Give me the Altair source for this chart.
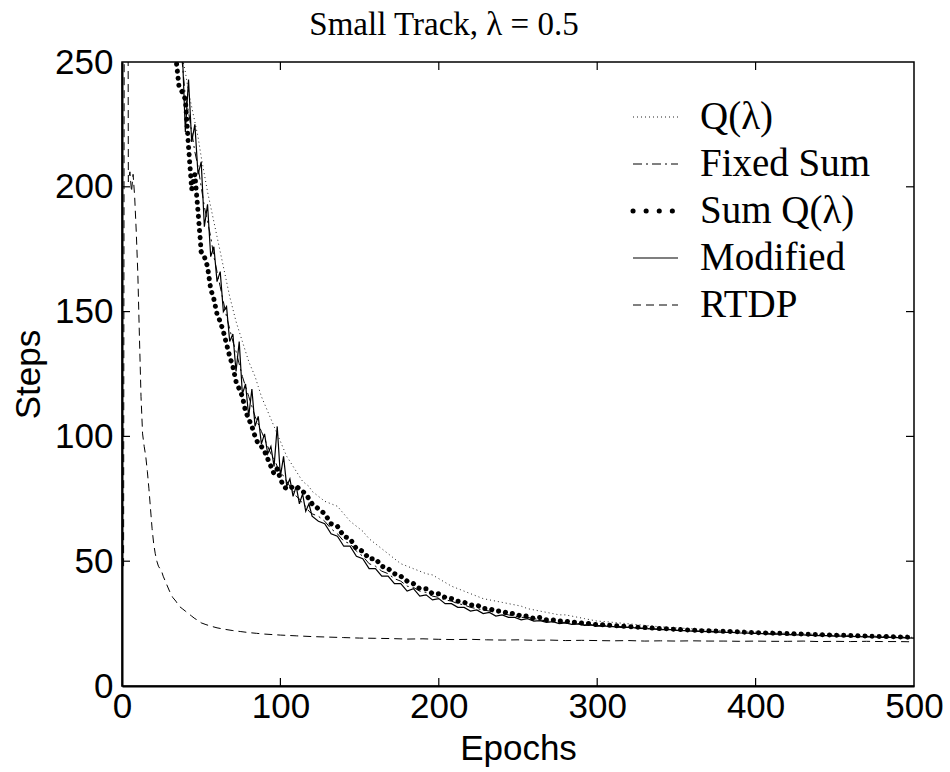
import altair as alt
import pandas as pd

# ---------------- data ----------------
EPOCHS_A = list(range(34, 121, 2))    # 44 points
EPOCHS_B = list(range(124, 301, 4))   # 45 points
EPOCHS_C = list(range(305, 501, 5))   # 40 points

MODIFIED_A = [290, 272, 256, 222, 243, 218, 225, 205, 210, 184,
              193, 172, 176, 162, 166, 150, 152, 138, 141, 126,
              138, 117, 121, 108, 119, 104, 108, 97, 101, 93,
              96, 88, 104, 84, 92, 80, 83, 76, 80, 73,
              77, 70, 73, 68]
MODIFIED_B = [66, 65, 61, 60, 56, 56, 52, 51, 47, 47,
              44, 44, 41, 41, 38, 39, 36, 36.5, 34.5, 35,
              33, 33, 31.5, 31.5, 30, 30.5, 29, 29.5, 28, 28.5,
              27.5, 27.5, 26.5, 27, 26, 26.2, 25.5, 25.8, 25, 25.3,
              24.7, 24.9, 24.3, 24.5, 24]
MODIFIED_C = [24, 23.8, 23.5, 23.6, 23.2, 23, 22.9, 22.6, 22.7, 22.3,
              22.2, 22, 21.9, 21.8, 21.7, 21.5, 21.5, 21.3, 21.2, 21.1,
              21, 20.8, 20.9, 20.6, 20.5, 20.5, 20.3, 20.2, 20.2, 20,
              20, 19.9, 19.8, 19.7, 19.7, 19.5, 19.5, 19.4, 19.3, 19.2]

SUMQ_A = [252, 240, 238, 235, 216, 199, 205, 190, 174, 172,
          168, 159, 155, 149, 146, 142, 137, 132, 128, 122,
          119, 116, 110, 107, 104, 100, 97, 96, 94, 91,
          88, 85, 87, 83, 80, 79, 79, 80, 80, 79,
          78, 77, 75, 73]
SUMQ_B = [71, 69, 65, 64, 60, 59, 55, 54, 51, 51,
          48, 47, 45, 44, 42, 41, 39, 39, 37, 37,
          35.5, 35, 34, 33.5, 32.5, 32.5, 31, 31, 30, 30,
          29, 29, 28, 28, 27, 27.5, 26.5, 26.5, 26, 26,
          25.5, 25.5, 25, 25, 24.5]
SUMQ_C = [24.5, 24.2, 24, 23.8, 23.6, 23.4, 23.2, 23, 22.9, 22.7,
          22.5, 22.4, 22.2, 22.1, 22, 21.9, 21.8, 21.7, 21.5, 21.4,
          21.3, 21.2, 21.1, 21, 20.9, 20.8, 20.7, 20.6, 20.5, 20.4,
          20.3, 20.2, 20.1, 20, 19.9, 19.8, 19.8, 19.7, 19.6, 19.5]

QLAMBDA_A = [275, 262, 252, 246, 238, 232, 226, 220, 212, 205,
             198, 192, 186, 180, 174, 168, 162, 156, 151, 146,
             142, 138, 134, 130, 127, 124, 120, 116, 113, 110,
             107, 104, 101, 98, 95, 92, 90, 88, 86, 84,
             82, 81, 80, 78]
QLAMBDA_B = [76, 74, 73, 72, 69, 66, 64, 62, 59, 57,
             55, 53, 51, 49, 48, 47, 46, 45, 44.5, 43,
             41.5, 40, 39, 38, 37, 36, 35, 34.5, 34, 33.5,
             33, 32.5, 32, 31, 30.5, 30, 29.5, 29, 28.5, 28.5,
             28, 27.5, 27, 26.5, 26]
QLAMBDA_C = [25.8, 25.5, 25.2, 24.9, 24.6, 24.3, 24, 23.7, 23.5, 23.3,
             23.1, 22.9, 22.7, 22.5, 22.3, 22.2, 22, 21.9, 21.7, 21.6,
             21.5, 21.4, 21.2, 21.1, 21, 20.9, 20.8, 20.7, 20.6, 20.5,
             20.4, 20.3, 20.2, 20.1, 20, 19.9, 19.8, 19.7, 19.6, 19.5]

FIXED_A = [282, 266, 250, 236, 230, 222, 214, 208, 200, 192,
           186, 180, 172, 166, 160, 154, 148, 143, 138, 134,
           129, 124, 120, 116, 112, 108, 105, 102, 99, 96,
           93, 91, 88, 86, 84, 82, 80, 78, 76, 75,
           73, 72, 70, 69]
FIXED_B = [68, 66, 63, 61, 58, 57, 54, 52, 49, 48,
           46, 45, 43, 42, 40, 39.5, 38, 37.5, 36, 35.5,
           34.5, 34, 33, 32.5, 31.5, 31, 30.5, 30, 29.5, 29,
           28.5, 28, 27.5, 27.5, 27, 26.5, 26, 26, 25.5, 25.5,
           25, 25, 24.5, 24.5, 24.2]
FIXED_C = [24.3, 24, 23.8, 23.6, 23.3, 23.1, 22.9, 22.7, 22.6, 22.4,
           22.2, 22.1, 22, 21.8, 21.7, 21.6, 21.5, 21.3, 21.2, 21.1,
           21, 20.9, 20.8, 20.7, 20.6, 20.5, 20.4, 20.3, 20.2, 20.1,
           20, 20, 19.9, 19.8, 19.7, 19.6, 19.6, 19.5, 19.4, 19.3]

RTDP_EPOCHS = [1, 2, 3, 4, 5, 6, 7, 8, 9, 10, 11, 12, 13, 14, 15, 16, 17, 18, 19, 20,
               21, 22, 23, 24, 25, 26, 28, 30, 32, 34, 36, 38, 40, 42, 44, 46, 48, 50,
               53, 56, 60, 65, 70, 75, 80, 85, 90, 95, 100, 110, 120, 130, 140, 150,
               160, 170, 180, 190, 200, 210, 220, 230, 240, 250, 260, 270, 280, 290,
               300, 310, 320, 330, 340, 350, 360, 370, 380, 390, 400, 410, 420, 430,
               440, 450, 460, 470, 480, 490, 500]
RTDP_STEPS = [48, 600, 600, 202, 206, 198, 205, 196, 182, 165, 140, 116, 101, 96, 92, 86, 79, 71, 63, 57,
              53, 50, 48, 47, 46, 44, 41, 38, 35.5, 34, 32, 31, 30, 29, 28, 27, 26.3, 25.3,
              24.6, 24, 23.3, 22.7, 22.2, 21.8, 21.4, 21.1, 20.8, 20.6, 20.4, 20.1, 19.8, 19.6, 19.4, 19.2,
              19.1, 19, 18.8, 18.9, 18.7, 18.6, 18.7, 18.5, 18.4, 18.5, 18.3, 18.4, 18.2, 18.3,
              18.2, 18.1, 18.2, 18, 18.1, 18, 18.1, 18, 18, 17.9, 18, 17.9, 17.9, 18,
              17.8, 17.9, 17.8, 17.9, 17.8, 17.8, 17.7]

SERIES_NAMES = ["Q(λ)", "Fixed Sum", "Sum Q(λ)", "Modified", "RTDP"]
X_TICKS = [0, 100, 200, 300, 400, 500]
Y_TICKS = [0, 50, 100, 150, 200, 250]
TITLE = "Small Track, λ = 0.5"

# ---------------- chart ----------------
W, H = 792, 624
EP = EPOCHS_A + EPOCHS_B + EPOCHS_C

def frame(vals):
    return pd.DataFrame({"epoch": EP, "steps": vals})

xs = alt.Scale(domain=[0, 500], nice=False, zero=False)
ys = alt.Scale(domain=[0, 250], nice=False, zero=False)
AX = dict(grid=False, ticks=False, labelFlush=False,
          labelFont="Liberation Sans", labelFontSize=35, labelColor="black",
          titleFont="Liberation Sans", titleFontSize=35, titleFontWeight="normal",
          titleColor="black", domainColor="black", domainWidth=2)
xaxis = alt.Axis(values=X_TICKS, title="Epochs", labelPadding=3, titlePadding=7, **AX)
yaxis = alt.Axis(values=Y_TICKS, title="Steps", labelPadding=9, titlePadding=8, **AX)

def X(f):
    return alt.X(f, type="quantitative", scale=xs, axis=xaxis)

def Y(f):
    return alt.Y(f, type="quantitative", scale=ys, axis=yaxis)

styles = {
    "Q(λ)": dict(strokeWidth=1.0, strokeDash=[1, 3], color="#222"),
    "Fixed Sum": dict(strokeWidth=1.0, strokeDash=[9, 4, 2, 4], color="black"),
    "Sum Q(λ)": dict(strokeWidth=5, strokeDash=[0.1, 7], strokeCap="round", color="black"),
    "Modified": dict(strokeWidth=1.2, color="black"),
    "RTDP": dict(strokeWidth=1.0, strokeDash=[8, 5], color="black"),
}
legend_styles = dict(styles)
legend_styles["Sum Q(λ)"] = dict(strokeWidth=5, strokeDash=[0.1, 13], strokeCap="round", color="black")

data_by_name = {
    "Q(λ)": frame(QLAMBDA_A + QLAMBDA_B + QLAMBDA_C),
    "Fixed Sum": frame(FIXED_A + FIXED_B + FIXED_C),
    "Sum Q(λ)": frame(SUMQ_A + SUMQ_B + SUMQ_C),
    "Modified": frame(MODIFIED_A + MODIFIED_B + MODIFIED_C),
    "RTDP": pd.DataFrame({"epoch": RTDP_EPOCHS, "steps": RTDP_STEPS}),
}

layers = []
for name in ["RTDP", "Q(λ)", "Fixed Sum", "Modified", "Sum Q(λ)"]:
    layers.append(
        alt.Chart(data_by_name[name]).mark_line(clip=True, **styles[name])
        .encode(x=X("epoch"), y=Y("steps"))
    )

# inward ticks on all four sides
xt = pd.DataFrame({"v": X_TICKS[1:-1]})
yt = pd.DataFrame({"v": Y_TICKS[1:-1]})
TL = 8
layers.append(alt.Chart(xt).mark_rule(color="black", strokeWidth=1.2)
              .encode(x=X("v"), y=alt.value(H), y2=alt.value(H - TL)))
layers.append(alt.Chart(xt).mark_rule(color="black", strokeWidth=1.2)
              .encode(x=X("v"), y=alt.value(0), y2=alt.value(TL)))
layers.append(alt.Chart(yt).mark_rule(color="black", strokeWidth=1.2)
              .encode(y=Y("v"), x=alt.value(0), x2=alt.value(TL)))
layers.append(alt.Chart(yt).mark_rule(color="black", strokeWidth=1.2)
              .encode(y=Y("v"), x=alt.value(W), x2=alt.value(W - TL)))

# legend (inside, top right)
LX0, LX1, LTX, LY0, LDY = 511, 556, 578, 55, 47
for i, name in enumerate(SERIES_NAMES):
    yy = LY0 + LDY * i
    one = pd.DataFrame({"t": [name]})
    layers.append(alt.Chart(one).mark_rule(**legend_styles[name])
                  .encode(x=alt.value(LX0), x2=alt.value(LX1), y=alt.value(yy)))
    layers.append(alt.Chart(one).mark_text(font="Liberation Serif", fontSize=39,
                                           align="left", baseline="middle", color="black")
                  .encode(text="t:N", x=alt.value(LTX), y=alt.value(yy)))

# title (drawn as text above the plot, as in the reference)
layers.append(alt.Chart(pd.DataFrame({"t": [TITLE]}))
              .mark_text(font="Liberation Serif", fontSize=33, align="center",
                         baseline="middle", color="black", clip=False)
              .encode(text="t:N", x=alt.value(322), y=alt.value(-37)))

chart = alt.layer(*layers).properties(
    width=W, height=H,
    background="white",
    autosize=alt.AutoSizeParams(type="none"),
    padding={"left": 122, "top": 62, "right": 36, "bottom": 86},
).configure_view(stroke="black", strokeWidth=1.5)

chart.save("out.html", embed_options={"renderer": "svg", "actions": False})
